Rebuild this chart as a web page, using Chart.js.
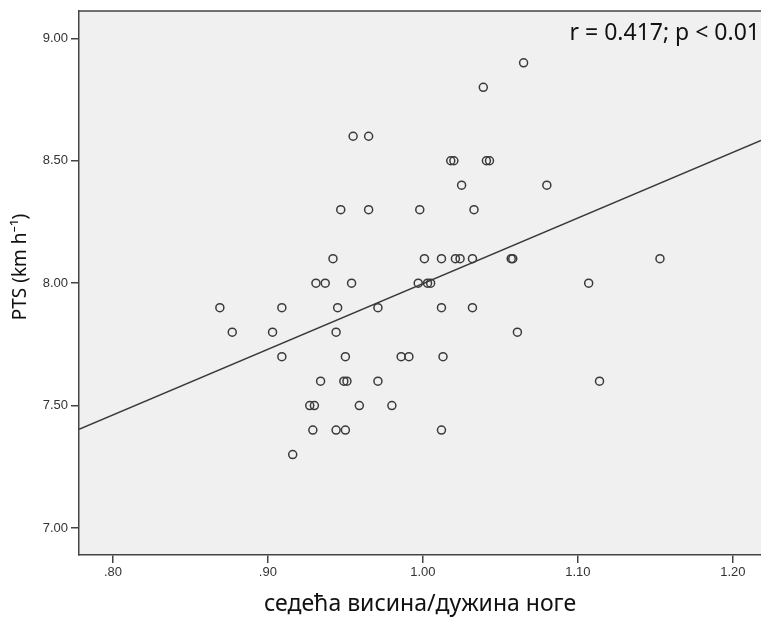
<!DOCTYPE html>
<html>
<head>
<meta charset="utf-8">
<script src="https://cdn.jsdelivr.net/npm/chart.js@4"></script>
<style>
  html, body { margin: 0; padding: 0; background: #fff; }
  #wrap { width: 761px; height: 618px; }
</style>
</head>
<body>
<div id="wrap"><canvas id="ptsChart" width="761" height="618"></canvas></div>
<script>
// sitting height / leg length ratio vs PTS
const ratio = [
    0.869, 0.877, 0.903, 0.909, 0.909, 0.916, 0.927, 0.930, 0.929, 0.931,
    0.934, 0.937, 0.942, 0.945, 0.944, 0.944, 0.947, 0.950, 0.949, 0.951,
    0.950, 0.954, 0.955, 0.959, 0.965, 0.965, 0.971, 0.971, 0.980, 0.986,
    0.991, 0.998, 0.997, 1.001, 1.003, 1.005, 1.012, 1.012, 1.013, 1.012,
    1.018, 1.020, 1.021, 1.025, 1.024, 1.032, 1.032, 1.033, 1.041, 1.043,
    1.039, 1.057, 1.058, 1.061, 1.065, 1.080, 1.107, 1.114, 1.153
];
const pts = [
    7.9, 7.8, 7.8, 7.9, 7.7, 7.3, 7.5, 7.5, 7.4, 8.0,
    7.6, 8.0, 8.1, 7.9, 7.8, 7.4, 8.3, 7.7, 7.6, 7.6,
    7.4, 8.0, 8.6, 7.5, 8.6, 8.3, 7.9, 7.6, 7.5, 7.7,
    7.7, 8.3, 8.0, 8.1, 8.0, 8.0, 7.9, 8.1, 7.7, 7.4,
    8.5, 8.5, 8.1, 8.4, 8.1, 8.1, 7.9, 8.3, 8.5, 8.5,
    8.8, 8.1, 8.1, 7.8, 8.9, 8.4, 8.0, 7.6, 8.1
];
// linear fit, drawn across the whole x range
const fitX = [0.7781, 1.2182];
const fitY = [7.403, 8.583];

const xTicks = [0.8, 0.9, 1.0, 1.1, 1.2];
const yTicks = [7.0, 7.5, 8.0, 8.5, 9.0];

const axisColor = '#444';

const plotFrame = {
    id: 'plotFrame',
    beforeDraw(chart) {
        const { ctx, chartArea: a } = chart;
        ctx.save();
        ctx.fillStyle = '#f0f0f0';
        ctx.fillRect(a.left, a.top, a.right - a.left, a.bottom - a.top);
        ctx.restore();
    },
    afterDraw(chart) {
        const { ctx, chartArea: a } = chart;
        ctx.save();
        ctx.strokeStyle = axisColor;
        ctx.lineWidth = 1.5;
        ctx.beginPath();
        ctx.moveTo(a.left, a.top);
        ctx.lineTo(a.right, a.top);
        ctx.stroke();

        ctx.fillStyle = '#111';
        ctx.font = '23px "Noto Sans"';
        ctx.textAlign = 'right';
        ctx.textBaseline = 'middle';
        ctx.fillText('r = 0.417; p < 0.01', 760, 33);

        ctx.translate(21, 267);
        ctx.rotate(-Math.PI / 2);
        ctx.textAlign = 'center';
        ctx.font = '19px "Noto Sans"';
        ctx.fillText('PTS (km h\u207B\u00B9)', 0, 0);
        ctx.restore();
    }
};

new Chart(document.getElementById('ptsChart').getContext('2d'), {
    type: 'scatter',
    data: {
        datasets: [{
            data: ratio.map((r, i) => ({ x: r, y: pts[i] })),
            pointStyle: 'circle',
            pointRadius: 4,
            pointBorderWidth: 1.5,
            pointBorderColor: '#3a3a3a',
            pointBackgroundColor: 'rgba(0,0,0,0)',
            showLine: false
        }, {
            data: fitX.map((x, i) => ({ x: x, y: fitY[i] })),
            showLine: true,
            borderColor: '#3a3a3a',
            borderWidth: 1.4,
            pointRadius: 0
        }]
    },
    options: {
        responsive: false,
        animation: false,
        layout: { autoPadding: false, padding: { top: 11, right: 0, left: 0, bottom: 0 } },
        plugins: {
            legend: { display: false },
            tooltip: { enabled: false }
        },
        scales: {
            x: {
                type: 'linear',
                min: 0.7781,
                max: 1.2182,
                afterBuildTicks: s => { s.ticks = xTicks.map(v => ({ value: v })); },
                afterFit: s => { s.height = 63; s.paddingLeft = 0; s.paddingRight = 0; },
                border: { color: axisColor, width: 1.5 },
                grid: { drawOnChartArea: false, color: axisColor, lineWidth: 1.5, tickLength: 8 },
                ticks: {
                    color: '#333',
                    padding: 2,
                    maxRotation: 0,
                    font: { family: 'Liberation Sans', size: 13 },
                    callback: v => v < 1 ? v.toFixed(2).slice(1) : v.toFixed(2)
                },
                title: {
                    display: true,
                    text: 'седећа висина/дужина ноге',
                    color: '#111',
                    font: { family: 'Noto Sans', size: 23 },
                    padding: { top: 3, bottom: 0 }
                }
            },
            y: {
                type: 'linear',
                min: 6.89,
                max: 9.1115,
                afterBuildTicks: s => { s.ticks = yTicks.map(v => ({ value: v })); },
                afterFit: s => { s.width = 79; s.paddingTop = 0; s.paddingBottom = 0; },
                border: { color: axisColor, width: 1.5 },
                grid: { drawOnChartArea: false, color: axisColor, lineWidth: 1.5, tickLength: 8 },
                ticks: {
                    color: '#333',
                    padding: 3,
                    font: { family: 'Liberation Sans', size: 13 },
                    callback: v => v.toFixed(2)
                }
            }
        }
    },
    plugins: [plotFrame]
});
</script>
</body>
</html>
